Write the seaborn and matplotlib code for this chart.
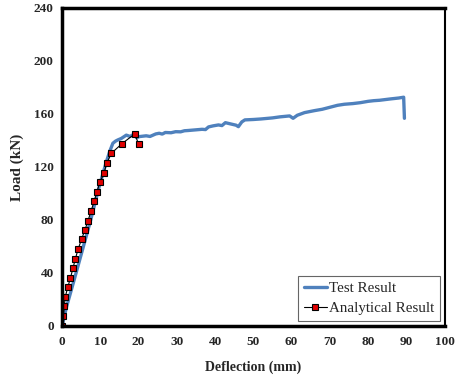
import matplotlib
matplotlib.use("Agg")
import matplotlib.pyplot as plt
import seaborn as sns
import pandas as pd

# Test result (deflection mm, load kN)
test_x = [0, 1.2, 3, 5.1, 7.5, 9.7, 11.5, 12.5, 13.3, 14, 14.6, 15.5, 16.8, 17.8, 18.9,
          19.5, 20.2, 22, 23, 24.5, 25.4, 26.2, 27, 28.5, 29.7, 31, 32, 33, 35, 36.6, 37.5,
          38.3, 39.5, 40.9, 41.8, 42.7, 44, 45.5, 46.1, 47, 47.8, 50, 52, 55, 57, 59.5,
          60.4, 61.5, 63.4, 66, 68, 70, 72, 73.8, 76, 78, 80, 81.5, 83, 85.8, 88, 89.3, 89.5]
test_y = [0, 14.6, 33, 54.9, 80, 105, 123, 132, 137.9, 139.5, 140.4, 141.5, 144, 143, 144.9,
          142, 142.9, 143.5, 143, 144.9, 145.4, 144.8, 146, 145.8, 146.6, 146.5, 147.3, 147.5, 148, 148.4, 148.2,
          150.2, 151, 151.7, 151.2, 153.4, 152.5, 151.5, 150.4, 154, 155.5, 155.8, 156.2, 157, 157.8, 158.5,
          156.7, 159, 161, 162.5, 163.5, 165, 166.5, 167.3, 167.8, 168.5, 169.5, 170, 170.3, 171.3, 172, 172.6, 156.7]

# Analytical result
ana_x = [0, 0.35, 0.6, 0.86, 1.5, 2.2, 2.85, 3.5, 4.2, 5.1, 6.0, 6.8, 7.6, 8.4, 9.15,
         9.9, 11.0, 11.7, 12.9, 15.6, 19.0, 20.0]
ana_y = [0, 7.5, 15.1, 22.1, 29.2, 36.2, 43.5, 50.8, 57.9, 65.4, 72.5, 79.5, 86.8, 94.1, 101.4,
         108.4, 115.7, 122.8, 130.3, 137.4, 144.9, 137.4]

x_ticks = [0, 10, 20, 30, 40, 50, 60, 70, 80, 90, 100]
y_ticks = [0, 40, 80, 120, 160, 200, 240]

sns.set_style("white")
plt.rcParams['font.family'] = ['Liberation Serif', 'DejaVu Serif']

fig = plt.figure(figsize=(4.56, 3.76), dpi=100)
ax = fig.add_axes([0.136, 0.133, 0.839, 0.846])

test_df = pd.DataFrame({"x": test_x, "y": test_y})
ana_df = pd.DataFrame({"x": ana_x, "y": ana_y})

sns.lineplot(data=test_df, x="x", y="y", sort=False, ax=ax, color="#4F81BD",
             linewidth=2.4, label="Test Result")
sns.lineplot(data=ana_df, x="x", y="y", sort=False, ax=ax, color="black",
             linewidth=0.8, marker="s", markersize=5, markerfacecolor="#E00000",
             markeredgecolor="black", markeredgewidth=0.8, label="Analytical Result")

ax.set_xlim(0, 100)
ax.set_ylim(0, 240)
ax.set_xticks(x_ticks)
ax.set_yticks(y_ticks)
ax.set_xticklabels([str(t) for t in x_ticks], fontsize=9.5, fontweight="bold")
ax.set_yticklabels([str(t) for t in y_ticks], fontsize=9.5, fontweight="bold")
ax.tick_params(axis="x", direction="in", length=4, width=1.5, pad=7)
ax.tick_params(axis="y", direction="out", length=3, width=1.5, pad=3)
ax.set_xlabel("Deflection (mm)", fontsize=10, fontweight="bold", labelpad=9)
ax.set_ylabel("Load (kN)", fontsize=11, fontweight="bold", labelpad=7)

for side in ["left", "bottom", "top"]:
    ax.spines[side].set_linewidth(2.5)
    ax.spines[side].set_color("black")
ax.spines["right"].set_linewidth(1.5)
ax.spines["right"].set_color("black")

leg = ax.legend(loc="lower right", fontsize=10.8, frameon=True, fancybox=False,
                edgecolor="#404040", handlelength=1.5, handletextpad=0.15,
                borderpad=0.4, labelspacing=0.45, borderaxespad=0.3)
leg.get_frame().set_linewidth(0.8)

fig.savefig("out.png", dpi=100)
